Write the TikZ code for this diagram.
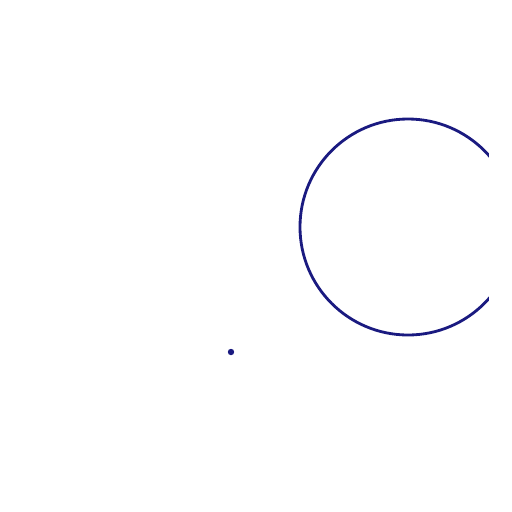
\documentclass[tikz,border=0pt]{standalone}
\definecolor{navy}{HTML}{1A1A80}
\begin{document}
\begin{tikzpicture}[x=0.02cm,y=-0.02cm]
\useasboundingbox (0,0) rectangle (512,512);
\begin{scope}
\clip (0,0) rectangle (489,512);
\draw[navy, line width=1.6pt] (408,227) circle[radius=108];
\end{scope}
\fill[navy] (231,352) circle[radius=3.2];
\end{tikzpicture}
\end{document}
